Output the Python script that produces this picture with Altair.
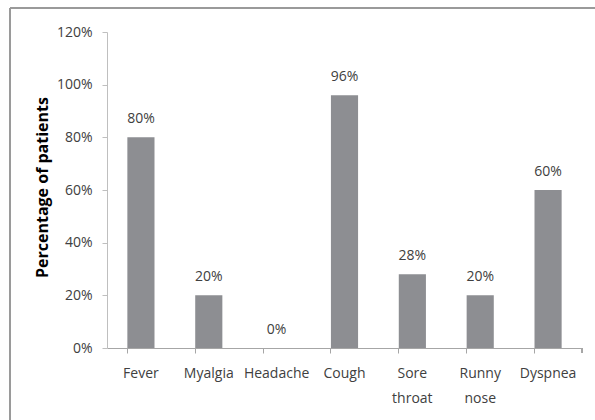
import altair as alt
import pandas as pd

# Symptom frequencies (percentage of patients)
symptoms = ["Fever", "Myalgia", "Headache", "Cough", "Sore throat", "Runny nose", "Dyspnea"]
percentages = [80, 20, 0, 96, 28, 20, 60]
y_ticks = [0, 20, 40, 60, 80, 100, 120]

df = pd.DataFrame({"symptom": symptoms, "pct": percentages})
df["label"] = df["pct"].astype(str) + "%"

W, H = 475, 316
FONT = "Open Sans"
TEXT = "#404040"
BAR = "#8d8e92"

x_enc = alt.X(
    "symptom:N",
    sort=symptoms,
    scale=alt.Scale(paddingInner=0.6, paddingOuter=0.3),
    axis=alt.Axis(
        title=None,
        labelAngle=0,
        labelExpr="split(datum.value, ' ')",
        labelLineHeight=25,
        labelFont=FONT,
        labelFontSize=14,
        labelColor=TEXT,
        labelPadding=20,
        bandPosition=0,
        tickSize=5,
        tickColor="#a6a6a6",
        domainColor="#a6a6a6",
        labelBaseline="middle",
    ),
)

y_enc = alt.Y(
    "pct:Q",
    scale=alt.Scale(domain=[0, 120], nice=False),
    axis=alt.Axis(
        values=y_ticks,
        labelExpr="datum.value + '%'",
        grid=False,
        title="Percentage of patients",
        titleFont=FONT,
        titleFontSize=16,
        titleFontWeight="bold",
        titleColor="#000000",
        titleAngle=-90,
        titleX=-65,
        titleY=H / 2 - 3,
        titleAlign="center",
        titleBaseline="middle",
        labelFont=FONT,
        labelFontSize=14,
        labelColor=TEXT,
        labelPadding=10,
        tickSize=5,
        tickColor="#bfbfbf",
        domainColor="#bfbfbf",
    ),
)

base = alt.Chart(df)

bars = base.mark_bar(color=BAR).encode(x=x_enc, y=y_enc)

labels = base.mark_text(
    font=FONT, fontSize=14, color=TEXT, baseline="bottom", dy=-11
).encode(
    x=alt.X("symptom:N", sort=symptoms),
    y=alt.Y("pct:Q"),
    text="label:N",
)

# closing tick at the right end of the category axis
end_tick = alt.Chart(df).mark_rule(color="#a6a6a6").encode(
    x=alt.value(W), y=alt.value(H), y2=alt.value(H + 5)
)

# frame edges around the figure
frame_top = alt.Chart(df).mark_rule(color="#9a9a9a", strokeWidth=2).encode(
    x=alt.value(-97), x2=alt.value(W + 20), y=alt.value(-24)
)
frame_left = alt.Chart(df).mark_rule(color="#9a9a9a", strokeWidth=2).encode(
    x=alt.value(-97), y=alt.value(-24), y2=alt.value(H + 80)
)

chart = (
    alt.layer(bars, labels, end_tick, frame_top, frame_left)
    .properties(
        width=W,
        height=H,
        autosize=alt.AutoSizeParams(type="none"),
        padding={"left": 107, "top": 32, "right": 13, "bottom": 72},
        background="white",
    )
    .configure_view(stroke=None)
)

chart.save("out.html", embed_options={"renderer": "svg", "actions": False})
